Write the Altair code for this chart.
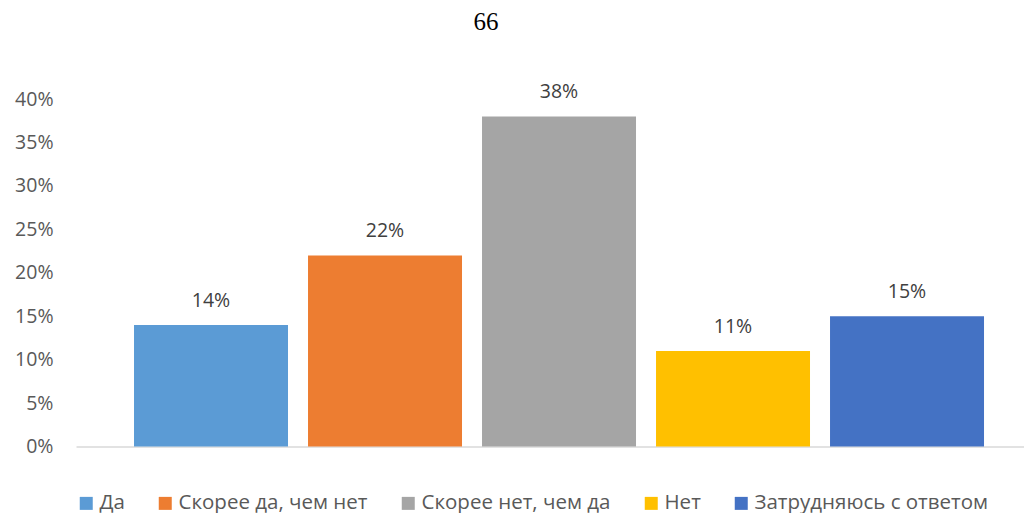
import altair as alt
import pandas as pd

categories = ["Да", "Скорее да, чем нет", "Скорее нет, чем да", "Нет", "Затрудняюсь с ответом"]
values = [0.14, 0.22, 0.38, 0.11, 0.15]
colors = ["#5B9BD5", "#ED7D31", "#A5A5A5", "#FFC000", "#4472C4"]
y_ticks = [0.0, 0.05, 0.10, 0.15, 0.20, 0.25, 0.30, 0.35, 0.40]
title_text = "66"

FONT = "Open Sans"
FS = 19.5
LEG_FS = 20.5

df = pd.DataFrame({"cat": categories, "val": values})

x_enc = alt.X(
    "cat:N",
    sort=categories,
    scale=alt.Scale(paddingInner=0.115, paddingOuter=0.2816, align=0.592),
    axis=alt.Axis(labels=False, ticks=False, title=None,
                  domainColor="#d9d9d9", domainWidth=1.5),
)
y_enc = alt.Y(
    "val:Q",
    scale=alt.Scale(domain=[0, 0.4], nice=False, zero=True),
    axis=alt.Axis(format=".0%", values=y_ticks, grid=False, domain=False,
                  ticks=False, labelPadding=23, labelFont=FONT,
                  labelFontSize=FS, labelColor="#595959", title=None),
)

bars = alt.Chart(df).mark_bar().encode(
    x=x_enc,
    y=y_enc,
    color=alt.Color(
        "cat:N",
        sort=categories,
        scale=alt.Scale(domain=categories, range=colors),
        legend=alt.Legend(
            orient="none", legendX=0, legendY=394, direction="horizontal",
            columns=5, symbolType="square", symbolSize=169,
            symbolStrokeWidth=0, labelFont=FONT, labelFontSize=LEG_FS,
            labelColor="#595959", labelOffset=3, columnPadding=30,
            padding=0, title=None, labelLimit=400,
        ),
    ),
)

labels = alt.Chart(df).mark_text(
    dy=-18, baseline="alphabetic", font=FONT, fontSize=FS, color="#404040"
).encode(
    x=alt.X("cat:N", sort=categories),
    y=alt.Y("val:Q"),
    text=alt.Text("val:Q", format=".0%"),
)

chart = (bars + labels).properties(
    width=948,
    height=347.5,
    padding={"left": 68, "top": 91, "right": 0, "bottom": 80},
    autosize=alt.AutoSizeParams(type="none"),
    title=alt.TitleParams(
        title_text, font="Liberation Serif", fontSize=25, fontWeight="normal",
        color="#000000", anchor="middle", dx=-64, offset=47,
    ),
).configure_view(stroke=None)

chart.save("out.html", embed_options={"renderer": "svg", "actions": False})
